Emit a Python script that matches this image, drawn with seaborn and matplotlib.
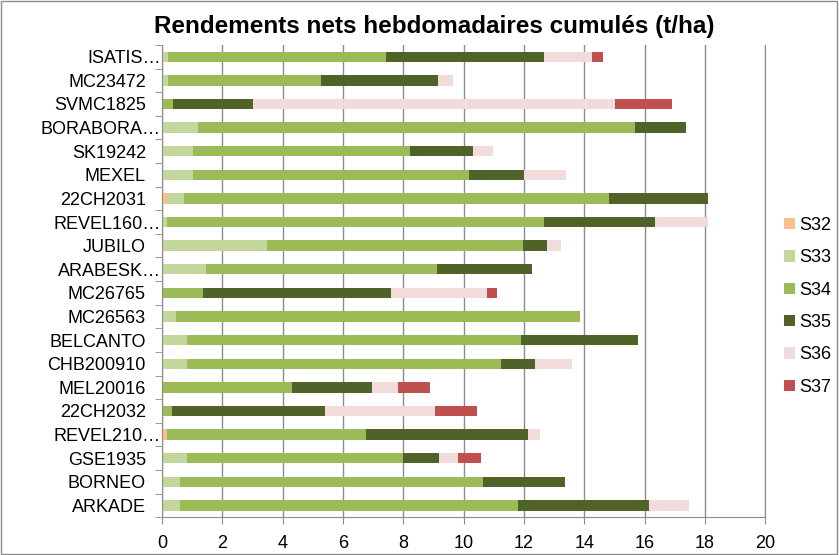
import numpy as np
import pandas as pd
import matplotlib
matplotlib.use("Agg")
import matplotlib.pyplot as plt
from matplotlib.patches import Rectangle
from matplotlib.transforms import ScaledTranslation
import seaborn as sns

# Varieties, top to bottom as shown
varieties = ["ISATIS…", "MC23472", "SVMC1825", "BORABORA…", "SK19242", "MEXEL",
             "22CH2031", "REVEL160…", "JUBILO", "ARABESK…", "MC26765", "MC26563",
             "BELCANTO", "CHB200910", "MEL20016", "22CH2032", "REVEL210…", "GSE1935",
             "BORNEO", "ARKADE"]

# Weekly net yields (t/ha), one list per week
s32 = [0, 0, 0, 0, 0, 0, 0.16, 0, 0, 0, 0, 0, 0, 0, 0, 0, 0.16, 0, 0, 0]
s33 = [0.2, 0.2, 0, 1.18, 1.04, 1.04, 0.58, 0.17, 3.49, 1.45, 0, 0.47, 0.84, 0.84, 0, 0, 0, 0.84, 0.61, 0.61]
s34 = [7.23, 5.07, 0.37, 14.52, 7.20, 9.14, 14.09, 12.5, 8.49, 7.66, 1.35, 13.39, 11.07, 10.41, 4.30, 0.32, 6.6, 7.14, 10.03, 11.2]
s35 = [5.24, 3.88, 2.65, 1.68, 2.08, 1.83, 3.26, 3.68, 0.79, 3.16, 6.26, 0, 3.88, 1.12, 2.65, 5.09, 5.39, 1.21, 2.74, 4.33]
s36 = [1.59, 0.51, 12.01, 0, 0.67, 1.38, 0, 1.74, 0.47, 0, 3.18, 0, 0, 1.23, 0.87, 3.64, 0.37, 0.63, 0, 1.34]
s37 = [0.35, 0, 1.89, 0, 0, 0, 0, 0, 0, 0, 0.31, 0, 0, 0, 1.07, 1.39, 0, 0.76, 0, 0]

weeks = ["S32", "S33", "S34", "S35", "S36", "S37"]
colors = ["#FAC090", "#C3D69B", "#9BBB59", "#4F6228", "#F2DCDB", "#C0504D"]

plt.rcParams["font.family"] = ["Liberation Sans", "DejaVu Sans"]

df = pd.DataFrame({"S32": s32, "S33": s33, "S34": s34, "S35": s35, "S36": s36, "S37": s37},
                  index=varieties)
cum = df.cumsum(axis=1)

fig = plt.figure(figsize=(8.39, 5.55), dpi=100)
ax = fig.add_axes([0.193, 0.068, 0.719, 0.851])

# draw cumulative totals from last week back so each week shows as a segment
for week, col in reversed(list(zip(weeks, colors))):
    sns.barplot(x=cum[week].values, y=varieties, order=varieties, color=col,
                width=0.44, orient="h", ax=ax, saturation=1, label=week)

ax.set_xlim(0, 20)
ax.set_xticks(np.arange(0, 21, 2))
ax.set_xlabel("")
ax.set_ylabel("")
ax.grid(axis="x", color="#8c8c8c", linewidth=1)
ax.set_axisbelow(True)
ax.spines["top"].set_visible(False)
for s in ["left", "bottom", "right"]:
    ax.spines[s].set_color("#8c8c8c")

ax.set_yticks(np.arange(-0.5, len(varieties), 1), minor=True)
ax.tick_params(axis="y", which="major", length=0, labelsize=13, pad=11.5)
ax.tick_params(axis="y", which="minor", length=5, color="#8c8c8c")
ax.tick_params(axis="x", length=5, color="#8c8c8c", labelsize=13, pad=8)
ax.set_ylim(len(varieties) - 0.5, -0.5)

# truncated names run a little further right, as in the original
for lab in ax.get_yticklabels():
    if lab.get_text().endswith("…"):
        lab.set_transform(lab.get_transform() + ScaledTranslation(0.15, 0, fig.dpi_scale_trans))

handles, labels = ax.get_legend_handles_labels()
if ax.get_legend() is not None:
    ax.get_legend().remove()
order = [labels.index(w) for w in weeks]
fig.legend([handles[i] for i in order], weeks, loc="upper left",
           bbox_to_anchor=(775 / 839, 1 - 208 / 555), frameon=False, fontsize=13,
           borderpad=0, handlelength=0.6, handleheight=0.6, handletextpad=0.25,
           labelspacing=0.85)

fig.text(0.518, 1 - 33 / 555, "Rendements nets hebdomadaires cumulés (t/ha)",
         fontsize=17.5, fontweight="bold", ha="center", va="baseline")
fig.patches.append(Rectangle((0.001, 0.001), 0.997, 0.997, transform=fig.transFigure,
                             fill=False, edgecolor="#8c8c8c", linewidth=1))

fig.savefig("out.png", dpi=100)
